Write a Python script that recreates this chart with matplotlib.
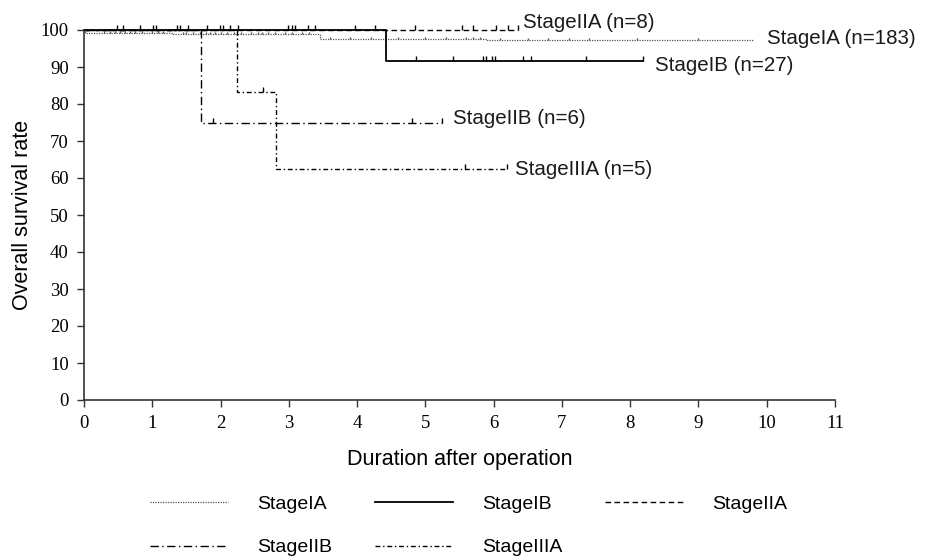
import matplotlib
matplotlib.use("Agg")
import matplotlib.pyplot as plt
from matplotlib.lines import Line2D

## Kaplan-Meier steps (years, %)
ia_times = [0, 0.02, 1.3, 3.45, 5.9, 9.82]
ia_surv = [100, 99.3, 98.9, 97.7, 97.3, 97.3]
ia_cens = [0.3, 0.38, 0.45, 0.52, 0.6, 0.68, 0.75, 0.85, 1.0, 1.08, 1.15, 1.45, 1.5, 1.6, 1.7,
           1.78, 1.85, 1.92, 2.0, 2.1, 2.2, 2.3, 2.45, 2.55, 2.6, 2.7, 2.8, 2.95, 3.05, 3.2, 3.3,
           3.6, 3.9, 4.2, 4.6, 5.0, 5.3, 5.6, 5.7, 5.8, 6.1, 6.5, 6.8, 7.1, 7.4, 8.1, 9.0]

ib_times = [0, 4.43, 8.19]
ib_surv = [100, 91.5, 91.5]
ib_cens = [0.48, 0.57, 0.82, 1.01, 1.06, 1.36, 1.41, 1.53, 1.80, 1.99, 2.04, 2.14, 2.26,
           2.99, 3.04, 3.09, 3.28, 3.38, 4.87, 5.41, 5.85, 5.89, 5.97, 6.02, 6.43, 6.55, 7.36, 8.19]

iia_times = [0, 6.35]
iia_surv = [100, 100]
iia_cens = [3.97, 4.26, 4.85, 5.53, 5.70, 6.04, 6.21, 6.35]

iib_times = [0, 1.72, 5.24]
iib_surv = [100, 75, 75]
iib_cens = [1.89, 4.80, 5.24]

iiia_times = [0, 2.24, 2.81, 6.19]
iiia_surv = [100, 83.3, 62.5, 62.5]
iiia_cens = [2.62, 5.58, 6.19]

## curve labels (text, x, y)
curve_labels = [
    ("StageIIA (n=8)", 6.43, 101.9),
    ("StageIA (n=183)", 10.01, 97.8),
    ("StageIB (n=27)", 8.36, 90.3),
    ("StageIIB (n=6)", 5.40, 76.2),
    ("StageIIIA (n=5)", 6.31, 62.2),
]

x_ticks = list(range(0, 12))
y_ticks = list(range(0, 101, 10))

SANS = "Liberation Sans"
SERIF = "Liberation Serif"

TICK_UP = [(0, 0), (0, 1)]


def level_at(times, surv, t):
    lvl = surv[0]
    for ti, s in zip(times, surv):
        if ti <= t:
            lvl = s
    return lvl


def main():
    fig = plt.figure(figsize=(9.31, 5.59), dpi=100)
    ax = fig.add_axes([84 / 931, 1 - 400 / 559, 751 / 931, 370 / 559])

    styles = {
        "IA": dict(color="#555555", lw=0.9, linestyle=(0, (1, 1))),
        "IB": dict(color="black", lw=1.3, linestyle="-"),
        "IIA": dict(color="black", lw=1.0, linestyle=(0, (4, 2.5))),
        "IIB": dict(color="black", lw=1.0, linestyle=(0, (6, 2.5, 1, 2.5))),
        "IIIA": dict(color="black", lw=1.0, linestyle=(0, (3.5, 2, 1, 2))),
    }

    series = [
        ("IA", ia_times, ia_surv, ia_cens, 3.5),
        ("IIA", iia_times, iia_surv, iia_cens, 7),
        ("IB", ib_times, ib_surv, ib_cens, 7),
        ("IIB", iib_times, iib_surv, iib_cens, 7),
        ("IIIA", iiia_times, iiia_surv, iiia_cens, 7),
    ]
    for key, t, s, cens, ms in series:
        st = styles[key]
        ax.step(t, s, where="post", clip_on=False, **st)
        cy = [level_at(t, s, c) for c in cens]
        ax.plot(cens, cy, linestyle="none", marker=TICK_UP, markersize=ms,
                markeredgewidth=1.0, color=st["color"], clip_on=False)

    for txt, x, y in curve_labels:
        ax.text(x, y, txt, ha="left", va="center", fontsize=14.8, family=SANS,
                color="#1a1a1a", clip_on=False)

    ## axes
    ax.set_xlim(0, 11)
    ax.set_ylim(0, 100)
    ax.set_xticks(x_ticks)
    ax.set_yticks(y_ticks)
    for lab in ax.get_xticklabels() + ax.get_yticklabels():
        lab.set_family(SERIF)
        lab.set_fontsize(13.5)
    ax.tick_params(direction="out", length=5, width=1, color="#333333", pad=6)
    for side in ("top", "right"):
        ax.spines[side].set_visible(False)
    for side in ("left", "bottom"):
        ax.spines[side].set_color("#333333")
        ax.spines[side].set_linewidth(1.2)

    ax.set_xlabel("Duration after operation", fontsize=15.5, family=SANS)
    ax.xaxis.set_label_coords(0.5, -0.132)
    ax.set_ylabel("Overall survival rate", fontsize=15.5, family=SANS)
    ax.yaxis.set_label_coords(-0.068, 0.5)

    ## legend: column-major order so rows read IA, IB, IIA / IIB, IIIA
    handles = [
        Line2D([0], [0], **styles["IA"]),
        Line2D([0], [0], **styles["IIB"]),
        Line2D([0], [0], **styles["IB"]),
        Line2D([0], [0], **styles["IIIA"]),
        Line2D([0], [0], **styles["IIA"]),
    ]
    labels = ["StageIA", "StageIIB", "StageIB", "StageIIIA", "StageIIA"]
    fig.legend(handles, labels, loc="upper left", bbox_to_anchor=(150 / 931, 1 - 495 / 559),
               ncol=3, frameon=False, borderpad=0, borderaxespad=0,
               handlelength=4.0, handletextpad=1.5, columnspacing=2.2, labelspacing=1.35,
               prop={"family": SANS, "size": 14})

    fig.savefig("out.png", dpi=100)


if __name__ == "__main__":
    main()
